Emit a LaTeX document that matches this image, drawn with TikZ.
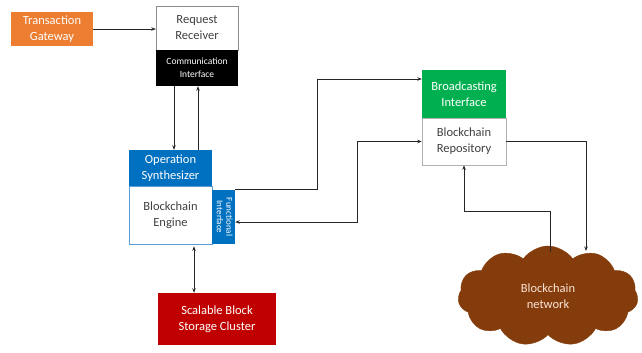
\documentclass[tikz,border=0pt]{standalone}
\usepackage{fontspec}
\setmainfont{Carlito}
\usetikzlibrary{shapes.symbols,arrows.meta}
\definecolor{gwOrange}{HTML}{ED7D31}
\definecolor{opBlue}{HTML}{0070C0}
\definecolor{engBorder}{HTML}{5B9BD5}
\definecolor{storeRed}{HTML}{C00000}
\definecolor{bcGreen}{HTML}{00B050}
\definecolor{netBrown}{HTML}{843C0C}
\definecolor{netText}{HTML}{FBE5D6}
\definecolor{txtGray}{HTML}{404040}
\begin{document}
\begin{tikzpicture}[x=1pt,y=-1pt,
  box/.style={rectangle,inner sep=1pt,align=center,font=\fontsize{12.5}{16}\selectfont},
  filled/.style={box,text=white},
  plain/.style={box,fill=white,text=txtGray},
  link/.style={draw=black!85,line width=0.8pt,-{Stealth[length=4.5pt,width=3.5pt]}},
  dlink/.style={link,{Stealth[length=4.5pt,width=3.5pt]}-{Stealth[length=4.5pt,width=3.5pt]}}]
\useasboundingbox (0,0) rectangle (642,353);

% gateway and receiver
\node[filled,fill=gwOrange,minimum width=82pt,minimum height=34pt] (TG) at (52,29) {Transaction\\Gateway};
\node[plain,draw=black!45,minimum width=82pt,minimum height=44pt] (RR) at (197,28) {Request\\Receiver};
\node[filled,fill=black,minimum width=82pt,minimum height=36pt,font=\fontsize{9.5}{13}\selectfont] (CI) at (197,68) {Communication\\Interface};

% blockchain engine with its interfaces
\node[filled,fill=opBlue,minimum width=83pt,minimum height=36pt] (OS) at (170.5,168) {Operation\\Synthesizer};
\node[plain,draw=engBorder,line width=0.6pt,minimum width=83pt,minimum height=58pt] (BE) at (170.5,215) {Blockchain\\Engine};
\node[filled,fill=opBlue,minimum width=23pt,minimum height=54pt,inner sep=0pt] (FI) at (223.5,217)
  {\rotatebox{-90}{\fontsize{9}{9.5}\selectfont\begin{tabular}{@{}c@{}}Functional\\Interface\end{tabular}}};

% storage
\node[filled,fill=storeRed,minimum width=118pt,minimum height=52pt] (SB) at (217,319) {Scalable Block\\Storage Cluster};

% repository
\node[filled,fill=bcGreen,minimum width=84pt,minimum height=48pt] (BI) at (464,94) {Broadcasting\\Interface};
\node[plain,draw=black!30,line width=0.6pt,minimum width=84pt,minimum height=47pt] (BR) at (464,141.5) {Blockchain\\Repository};

% network
\node[cloud,cloud puffs=11,cloud puff arc=110,aspect=1.8,fill=netBrown,draw=netBrown,
  minimum width=180pt,minimum height=100pt,inner sep=0pt,text=netText,align=center,
  font=\fontsize{12.5}{16}\selectfont] (NET) at (548,296) {Blockchain\\network};

% routing points
\coordinate (k1) at (317,79);
\coordinate (k2) at (357,222);
\coordinate (k3) at (550,211);
\coordinate (n1) at (550,252);
\coordinate (n2) at (586,251);

% connectors
\draw[link] (TG.east) -- (TG.east -| RR.west);
\draw[link] ([xshift=-23pt]CI.south) -- ([xshift=-23pt]CI.south |- OS.north);
\draw[link] ([xshift=1pt]CI.south |- OS.north) -- ([xshift=1pt]CI.south);
\draw[link] (FI.north east) -| (k1) -- (k1 -| BI.west);
\draw[dlink] (BR.west) -| (k2) -- (k2 -| FI.east);
\draw[link] (n1) -- (k3) -| (BR.south);
\draw[link] (BR.east) -| (n2);
\draw[dlink,shorten <=2pt] ([xshift=23.5pt]BE.south) -- ([xshift=23.5pt]BE.south |- SB.north);
\end{tikzpicture}
\end{document}
